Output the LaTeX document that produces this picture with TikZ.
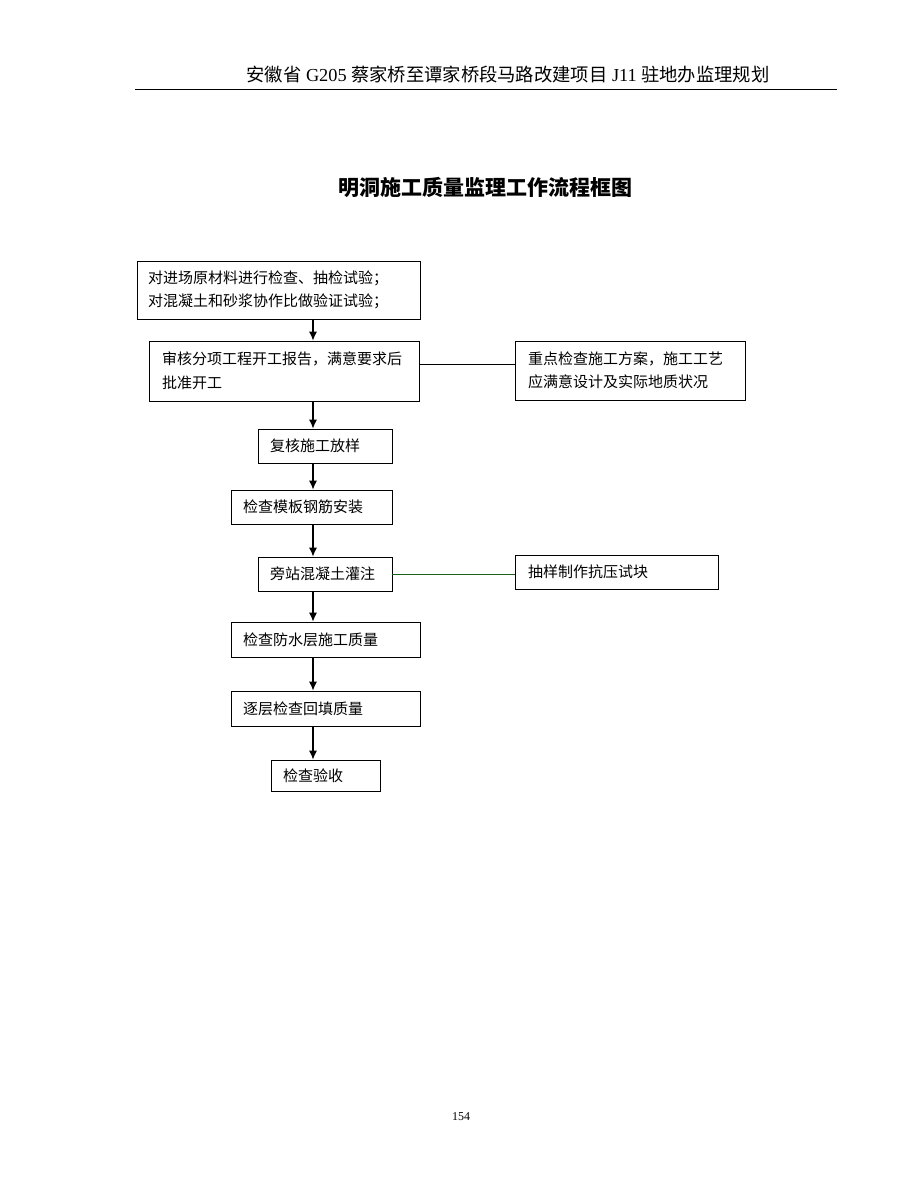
\documentclass[tikz,border=0pt]{standalone}
\usepackage{fontspec}
\setmainfont{Liberation Serif}
\newfontfamily\cjk{Noto Sans CJK SC}
\usetikzlibrary{arrows.meta}
\definecolor{ln}{rgb}{0.1,0.38,0.1}
\tikzstyle{box}=[draw,line width=0.8pt,inner xsep=0pt,inner ysep=0pt,align=left,font=\cjk\fontsize{15}{23.5}\selectfont]
\tikzstyle{flow}=[-{Latex[length=9pt,width=8pt]},line width=1.1pt]

\begin{document}
\begin{tikzpicture}[x=1pt,y=-1pt]
	\useasboundingbox (0,0) rectangle (920,1191);
	% header and title
	\node (head) at (508,75) {\fontsize{18.3}{18.3}\selectfont{\cjk 安徽省} G205 {\cjk 蔡家桥至谭家桥段马路改建项目} J11 {\cjk 驻地办监理规划}};
	\draw[line width=1.2pt] (135,89.5) -- (837,89.5);
	\node (title) at (485.5,187) {\cjk\bfseries\fontsize{21}{21}\selectfont 明洞施工质量监理工作流程框图};
	% main column
	\node[box,minimum width=283pt,minimum height=58pt,text width=261pt] (b1) at (278.5,290) {对进场原材料进行检查、抽检试验；\\对混凝土和砂浆协作比做验证试验；};
	\node[box,minimum width=270pt,minimum height=60pt,text width=244pt] (b2) at (284,371) {审核分项工程开工报告，满意要求后\\批准开工};
	\node[box,minimum width=134pt,minimum height=34pt,text width=110pt] (b3) at (325,446) {复核施工放样};
	\node[box,minimum width=161pt,minimum height=34pt,text width=137pt] (b4) at (311.5,507) {检查模板钢筋安装};
	\node[box,minimum width=134pt,minimum height=34pt,text width=110pt] (b5) at (325,574) {旁站混凝土灌注};
	\node[box,minimum width=189pt,minimum height=35pt,text width=165pt] (b6) at (325.5,639.5) {检查防水层施工质量};
	\node[box,minimum width=189pt,minimum height=35pt,text width=165pt] (b7) at (325.5,708.5) {逐层检查回填质量};
	\node[box,minimum width=109pt,minimum height=31pt,text width=85pt] (b8) at (325.5,775.5) {检查验收};
	% side boxes
	\node[box,minimum width=230pt,minimum height=59pt,text width=204pt] (s1) at (630,370.5) {重点检查施工方案，施工工艺\\应满意设计及实际地质状况};
	\node[box,minimum width=203pt,minimum height=34pt,text width=177pt] (s2) at (616.5,572) {抽样制作抗压试块};
	\coordinate (spine) at (313,0);
	\foreach \a/\b in {b1/b2,b2/b3,b3/b4,b4/b5,b5/b6,b6/b7,b7/b8}
		\draw[flow] (\a.south -| spine) -- (\b.north -| spine);
	\draw[line width=0.8pt] (b2.east |- 0,364) -- (s1.west |- 0,364);
	\draw[line width=0.8pt,ln] (b5.east) -- (s2.west |- b5.east);
	\node (page) at (461,1117) {\fontsize{12}{12}\selectfont 154};
\end{tikzpicture}
\end{document}
